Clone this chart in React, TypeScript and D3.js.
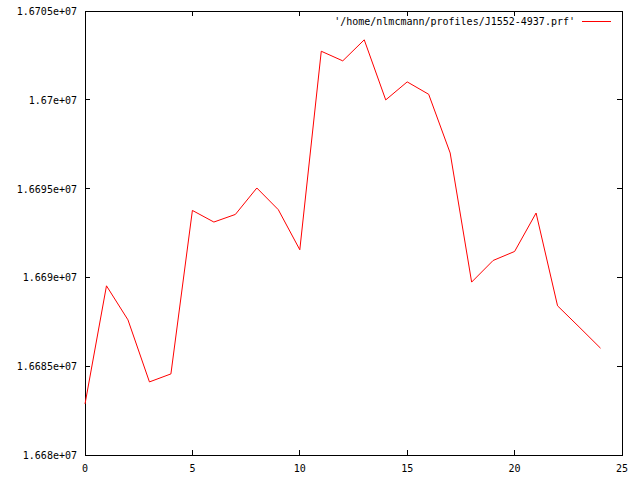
import React from "react";
import * as d3 from "d3";

const xValues = [0, 1, 2, 3, 4, 5, 6, 7, 8, 9, 10, 11, 12, 13, 14, 15, 16, 17, 18, 19, 20, 21, 22, 23, 24];
const yValues = [
  16682870, 16689526, 16687610, 16684115, 16684566, 16693771, 16693117, 16693546,
  16695034, 16693811, 16691556, 16702734, 16702193, 16703377, 16699994, 16701009,
  16700310, 16697007, 16689735, 16690953, 16691460, 16693625, 16688399, 16687215, 16686015,
];
const xTicks = [0, 5, 10, 15, 20, 25];
const yTicks = [16680000, 16685000, 16690000, 16695000, 16700000, 16705000];
const yTickLabels = ["1.668e+07", "1.6685e+07", "1.669e+07", "1.6695e+07", "1.67e+07", "1.6705e+07"];
const legendLabel = "'/home/nlmcmann/profiles/J1552-4937.prf'";

const W = 640, H = 480;
const L = 85, R = 622, T = 11, B = 455;
const FONT = "'DejaVu Sans Mono', 'Liberation Mono', monospace";

export default function App() {
  const x = d3.scaleLinear().domain([0, 25]).range([L, R]);
  const y = d3.scaleLinear().domain([16680000, 16705000]).range([B, T]);
  const line = d3.line<number>().x((_, i) => x(xValues[i])).y((d) => y(d));
  const tl = 5;
  return (
    <svg width={W} height={H} style={{ position: "fixed", left: 0, top: 0, background: "#fff" }}>
      <rect x={0} y={0} width={W} height={H} fill="#fff" />
      <g stroke="#000" strokeWidth={1} shapeRendering="crispEdges">
        <rect x={L + 0.5} y={T + 0.5} width={R - L} height={B - T} fill="none" />
        {xTicks.map((t) => (
          <g key={"x" + t}>
            <line x1={x(t)} x2={x(t)} y1={B} y2={B - tl} />
            <line x1={x(t)} x2={x(t)} y1={T} y2={T + tl} />
          </g>
        ))}
        {yTicks.map((t) => (
          <g key={"y" + t}>
            <line x1={L} x2={L + tl} y1={y(t)} y2={y(t)} />
            <line x1={R} x2={R - tl} y1={y(t)} y2={y(t)} />
          </g>
        ))}
      </g>
      <g fontFamily={FONT} fontSize={10} fill="#000">
        {xTicks.map((t) => (
          <text key={"xl" + t} x={x(t)} y={472} textAnchor="middle">{t}</text>
        ))}
        {yTicks.map((t, i) => (
          <text key={"yl" + t} x={77} y={y(t) + 4} textAnchor="end">{yTickLabels[i]}</text>
        ))}
        <text x={575} y={25} textAnchor="end">{legendLabel}</text>
      </g>
      <line x1={582} x2={611} y1={21.5} y2={21.5} stroke="#ff0000" strokeWidth={1} shapeRendering="crispEdges" />
      <path d={line(yValues) || ""} fill="none" stroke="#ff0000" strokeWidth={1} />
    </svg>
  );
}
